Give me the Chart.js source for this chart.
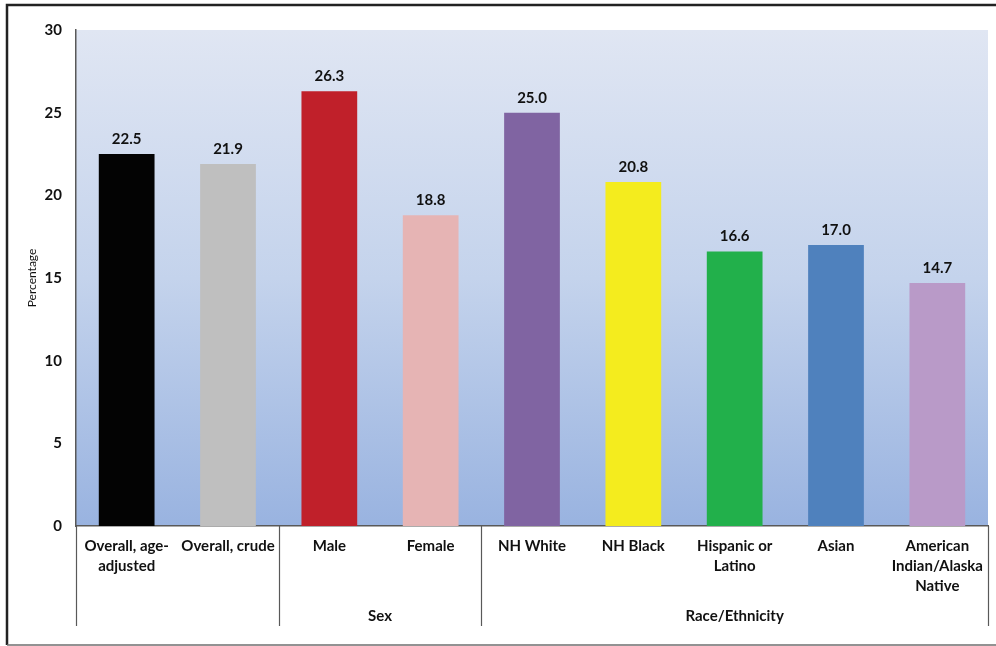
<!DOCTYPE html>
<html>
<head>
<meta charset="utf-8">
<script src="https://cdn.jsdelivr.net/npm/chart.js@4.4.1/dist/chart.umd.min.js"></script>
<style>
  html, body { margin: 0; padding: 0; background: #ffffff; }
  #wrap { width: 996px; height: 646px; }
</style>
</head>
<body>
<div id="wrap"><canvas id="myChart" width="996" height="646"></canvas></div>
<script>
const categories = [
    ["Overall, age-", "adjusted"],
    "Overall, crude",
    "Male",
    "Female",
    "NH White",
    "NH Black",
    ["Hispanic or", "Latino"],
    "Asian",
    ["American", "Indian/Alaska", "Native"]
];
const percentages = [22.5, 21.9, 26.3, 18.8, 25.0, 20.8, 16.6, 17.0, 14.7];
const barColors = [
    "#030303", "#bfbfbf", "#c0202a", "#e6b4b4", "#8064a2",
    "#f4ec1e", "#22b04b", "#4f81bd", "#b99ac8"
];
const groupLabels = ["", "Sex", "Race/Ethnicity"];
const groupStarts = [0, 2, 4];
const groupEnds = [2, 4, 9];
const yTicks = [0, 5, 10, 15, 20, 25, 30];
const yTitle = "Percentage";

window.onload = () => {
    const FONT = "Lato, 'Open Sans', sans-serif";
    const TEXT = "#111111";
    const AXIS = "#595959";

    // plot background gradient
    const backgroundPlugin = {
        id: "plotBackground",
        beforeDraw(chart) {
            const { ctx, chartArea } = chart;
            const g = ctx.createLinearGradient(0, chartArea.top, 0, chartArea.bottom);
            g.addColorStop(0, "#e0e6f3");
            g.addColorStop(0.5, "#c4d3ec");
            g.addColorStop(1, "#99b3e0");
            ctx.save();
            ctx.fillStyle = g;
            ctx.fillRect(chartArea.left, chartArea.top, chartArea.right - chartArea.left, chartArea.bottom - chartArea.top);
            ctx.restore();
        }
    };

    // value labels, axis title, group labels, separators and frame
    const annotationPlugin = {
        id: "annotations",
        afterDraw(chart) {
            const { ctx, chartArea } = chart;
            const xScale = chart.scales.x;
            const meta = chart.getDatasetMeta(0);
            ctx.save();

            ctx.font = "bold 15px " + FONT;
            ctx.fillStyle = TEXT;
            ctx.textAlign = "center";
            ctx.textBaseline = "middle";
            meta.data.forEach((bar, i) => {
                ctx.fillText(percentages[i].toFixed(1), bar.x, bar.y - 15);
            });

            const step = (chartArea.right - chartArea.left) / categories.length;
            const edge = (i) => xScale.getPixelForValue(i) - step / 2;
            const lineBottom = chartArea.bottom + 100;

            ctx.strokeStyle = AXIS;
            ctx.lineWidth = 1.2;
            const bounds = [0].concat(groupEnds);
            bounds.forEach((b) => {
                const x = Math.round(edge(b)) + 0.5;
                ctx.beginPath();
                ctx.moveTo(x, chartArea.bottom);
                ctx.lineTo(x, lineBottom);
                ctx.stroke();
            });

            groupLabels.forEach((label, i) => {
                if (!label) return;
                const x = (edge(groupStarts[i]) + edge(groupEnds[i])) / 2;
                ctx.fillText(label, x, chartArea.bottom + 90);
            });

            // y axis title
            ctx.save();
            ctx.translate(32, (chartArea.top + chartArea.bottom) / 2);
            ctx.rotate(-Math.PI / 2);
            ctx.font = "12px " + FONT;
            ctx.fillText(yTitle, 0, 0);
            ctx.restore();

            // outer frame
            ctx.strokeStyle = "#222222";
            ctx.lineWidth = 2.5;
            ctx.beginPath();
            ctx.moveTo(996, 5);
            ctx.lineTo(7, 5);
            ctx.lineTo(7, 645);
            ctx.stroke();
            ctx.strokeStyle = "#6e6e6e";
            ctx.lineWidth = 1.5;
            ctx.beginPath();
            ctx.moveTo(7, 645);
            ctx.lineTo(996, 645);
            ctx.stroke();

            ctx.restore();
        }
    };

    const config = {
        type: "bar",
        data: {
            labels: categories,
            datasets: [{
                data: percentages,
                backgroundColor: barColors,
                borderWidth: 0,
                barPercentage: 0.55,
                categoryPercentage: 1.0
            }]
        },
        options: {
            responsive: false,
            devicePixelRatio: 1,
            animation: false,
            layout: { padding: { left: 0, right: 8, top: 30, bottom: 0 } },
            plugins: {
                legend: { display: false },
                tooltip: { enabled: false }
            },
            scales: {
                x: {
                    grid: { display: false, drawTicks: false },
                    border: { display: true, color: AXIS, width: 1.5 },
                    ticks: {
                        color: TEXT,
                        font: { family: FONT, size: 15, weight: "bold", lineHeight: 1.33 },
                        padding: 10,
                        maxRotation: 0,
                        autoSkip: false
                    },
                    afterFit(scale) { scale.height = 120; }
                },
                y: {
                    min: 0,
                    max: 30,
                    afterBuildTicks(scale) { scale.ticks = yTicks.map((v) => ({ value: v })); },
                    grid: { display: false, drawTicks: false },
                    border: { display: true, color: AXIS, width: 1.5 },
                    ticks: {
                        color: TEXT,
                        font: { family: FONT, size: 15, weight: "bold" },
                        padding: 14
                    },
                    afterFit(scale) { scale.width = 76; }
                }
            }
        },
        plugins: [backgroundPlugin, annotationPlugin]
    };

    new Chart(document.getElementById("myChart"), config);
};
</script>
</body>
</html>
